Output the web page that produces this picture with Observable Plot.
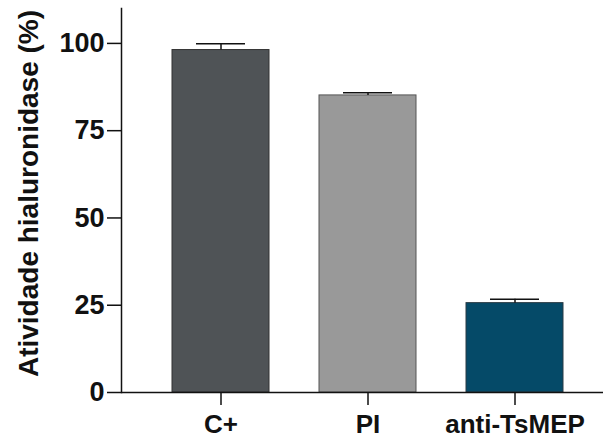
<!DOCTYPE html>
<html>
<head>
<meta charset="utf-8">
<script src="https://cdn.jsdelivr.net/npm/d3@7"></script>
<script src="https://cdn.jsdelivr.net/npm/@observablehq/plot@0.6"></script>
<style>
  html, body { margin: 0; padding: 0; background: #fff; }
  svg { display: block; }
</style>
</head>
<body>
<div id="chart"></div>
<script>
const categories = ["C+", "PI", "anti-TsMEP"];
const values = [98.1, 85.1, 25.6];
const errors = [1.8, 0.8, 1.1];
const fills = ["#4f5356", "#999999", "#054a68"];
const strokes = ["#333333", "#555555", "#2a3a44"];
const yTicks = [0, 25, 50, 75, 100];
const yTitle = "Atividade hialuronidase (%)";

const data = categories.map((c, i) => ({cat: c, v: values[i], e: values[i] + errors[i], fill: fills[i], stroke: strokes[i]}));

const font = "'Liberation Sans', Arial, sans-serif";

const chart = Plot.plot({
  width: 603,
  height: 439,
  marginLeft: 121,
  marginRight: 0,
  marginTop: 8,
  marginBottom: 47,
  style: {fontFamily: font, background: "#fff"},
  x: {domain: categories, paddingInner: 0.338, paddingOuter: 0.2975, align: 0.5625, label: null},
  y: {domain: [0, 110], label: null},
  marks: [
    Plot.barY(data, {x: "cat", y: "v", fill: "fill", stroke: "stroke", strokeWidth: 1}),
    Plot.ruleX(data, {x: "cat", y1: "v", y2: "e", stroke: "#111", strokeWidth: 1.5}),
    Plot.tickY(data, {x: "cat", y: "e", stroke: "#111", strokeWidth: 1.5, insetLeft: 24, insetRight: 24}),
    Plot.frame({anchor: "left", stroke: "#111", strokeWidth: 1.5}),
    Plot.ruleY([0], {stroke: "#111", strokeWidth: 1.5}),
    Plot.axisY({ticks: yTicks, tickSize: 14, tickPadding: 3, fontSize: 27, fontWeight: "bold", fill: "#111", stroke: "#111", strokeWidth: 1.5, label: null, tickFormat: d => String(d)}),
    Plot.axisX({tickSize: 13, tickPadding: 9, fontSize: 26, fontWeight: "bold", fill: "#111", stroke: "#111", strokeWidth: 1.5, label: null}),
    Plot.text([yTitle], {frameAnchor: "left", text: d => d, rotate: -90, dx: -92, dy: -7, fontSize: 28, fontWeight: "bold", fill: "#111", textAnchor: "middle", lineAnchor: "middle"})
  ]
});

document.getElementById("chart").appendChild(chart);
</script>
</body>
</html>
